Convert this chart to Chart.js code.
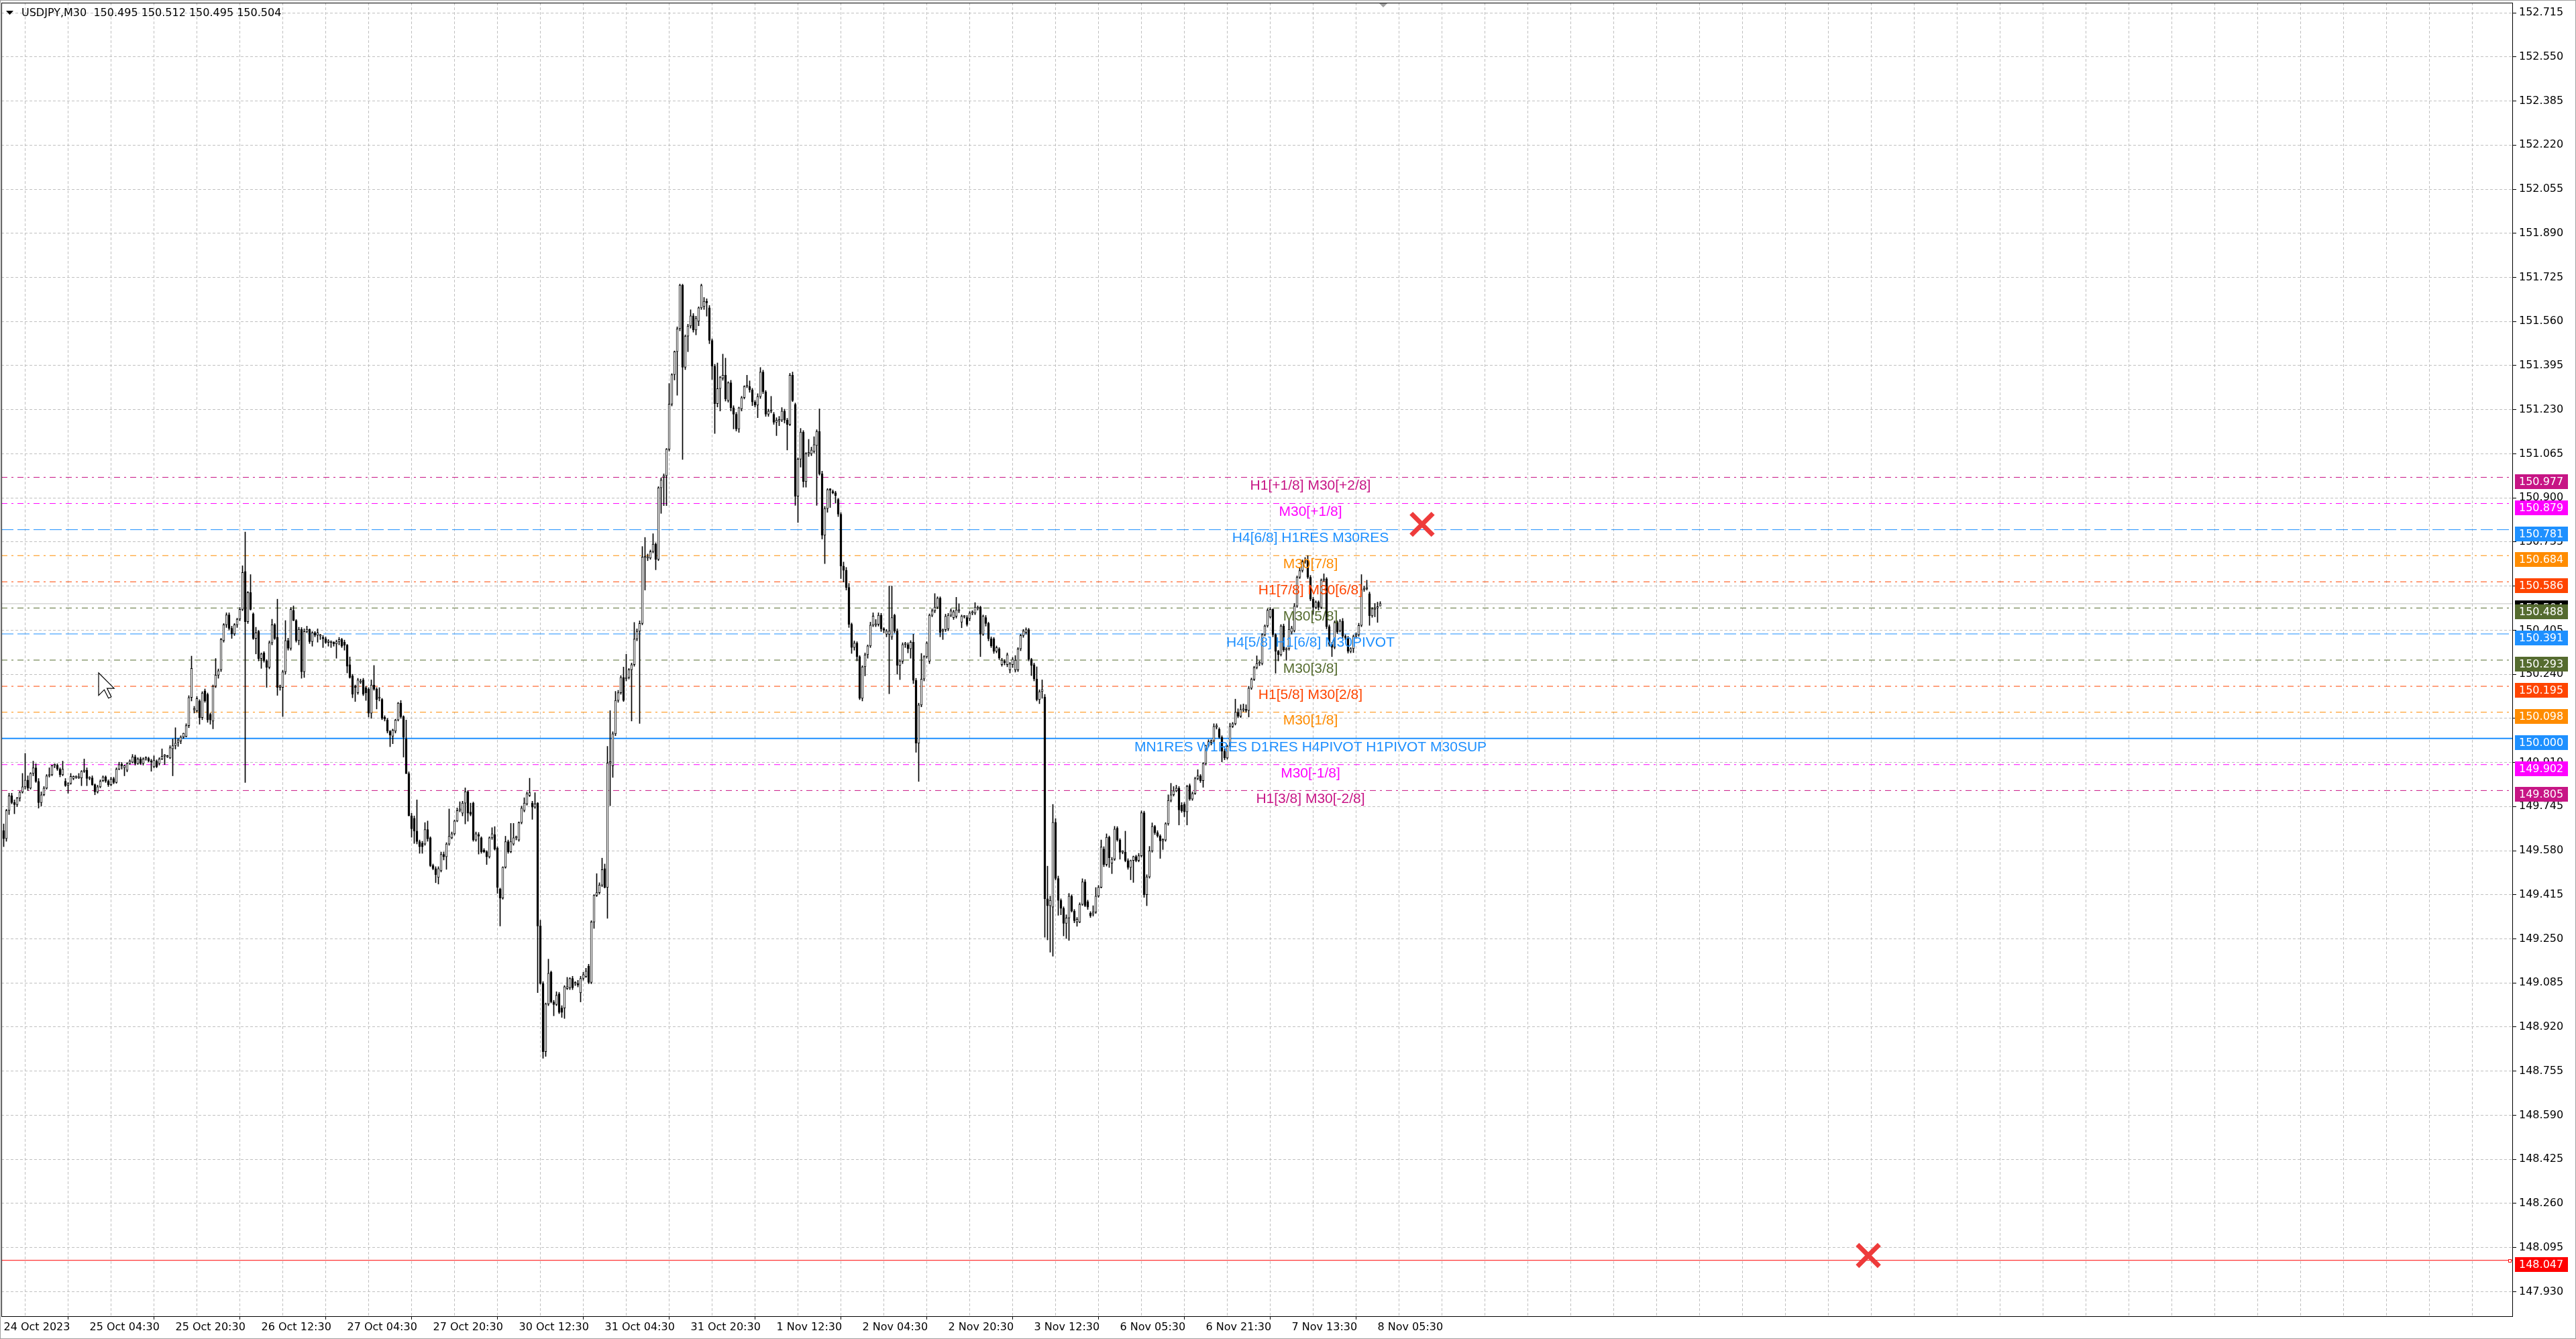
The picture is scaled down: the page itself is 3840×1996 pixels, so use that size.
<!DOCTYPE html>
<html>
<head>
<meta charset="utf-8">
<title>USDJPY,M30</title>
<script src="https://cdn.jsdelivr.net/npm/chart.js@4.4.1/dist/chart.umd.min.js"></script>
<style>
  html, body { margin: 0; padding: 0; background: #fff; overflow: hidden; }
  #wrap { width: 3840px; height: 1996px; position: relative; }
</style>
</head>
<body>
<div id="wrap"><canvas id="chart"></canvas></div>
<script>
// M30 candles, 24 Oct 2023 12:30 .. 8 Nov 2023 (one entry per bar).
// Values are in 0.001 JPY relative to BASE (e.g. -375 = 149.625).
const BASE = 150.000;
const opens = [
  -345,-375,-270,-215,-240,-248,-223,-201,-181,-156, -186,-131,-110,-161,-240,-211,-186,-140,-136,-102,
  -100,-115,-136,-160,-176,-169,-150,-146,-148,-148, -123,-119,-150,-148,-173,-200,-181,-158,-144,-160,
  -173,-150,-165,-115,-98,-110,-119,-94,-89,-69, -94,-77,-94,-77,-75,-84,-106,-85,-94,-77,
  -67,-69,-73,-39,-27,-14,-10,5,7,48, 153,107,103,140,78,178,165,90,65,195,
  237,257,366,425,462,412,391,425,446,483, 625,437,546,466,374,400,299,320,291,266,
  358,425,379,191,191,249,366,337,479,441, 366,408,249,400,408,362,395,387,383,376,
  373,359,359,360,354,362,370,360,349,
  276,234,196,171,210,219,190,184,94,200, 184,150,146,79,69,27,8,27,69,132,
  81,-2,-132,-290,-299,-347,-386,-392,-395,-341, -372,-476,-487,-520,-495,-434,-443,-395,-372,-357,
  -309,-270,-280,-242,-199,-276,-242,-380,-360,-372, -418,-424,-443,-372,-360,-410,-564,-597,-482,-386,
  -424,-395,-372,-380,-315,-270,-245,-213,-242,-257, -242,-702,-917,-1172,-994,-875,-986,-996,-956,-1009,
  -1009,-936,-933,-898,-918,-917,-952,-898,-891,-852, -913,-687,-587,-577,-549,-487,-558,-92,-103,17,
  142,171,228,223,228,257,276,372,401,430, 677,675,675,699,727,670,938,977,983,1082,
  1251,1361,1447,1533,1696,1389,1505,1543,1581,1528, 1561,1611,1616,1636,1611,1489,1393,1253,1309,1348,
  1359,1264,1331,1237,1213,1158,1233,1275,1317,1317, 1304,1259,1247,1279,1371,1297,1213,1225,1213,1183,
  1188,1191,1225,1191,1175,1359,1250,906,1045,1146, 961,1065,1065,1074,1096,1149,990,760,860,931,
  923,919,894,839,645,629,565,427,340,357, 306,150,268,313,346,424,424,427,461,410,
  390,390,380,461,402,273,289,351,351,335, 360,217,-18,125,222,306,289,461,477,491,
  525,402,407,410,461,452,457,477,435,455, 452,448,469,469,486,491,390,452,430,373,
  373,326,335,276,289,276,256,276,256,256, 335,385,397,407,296,276,222,145,175,155,
  -600,-626,-631,-314,-524,-606,-636,-692,-672,-590, -646,-687,-687,-621,-537,-611,-654,-657,-650,-590,
  -557,-414,-472,-370,-467,-452,-336,-380,-426,-426, -457,-483,-457,-442,-457,-439,-278,-585,-518,-421,
  -329,-353,-365,-383,-380,-319,-232,-211,-196,-186, -250,-247,-275,-176,-227,-206,-150,-140,-158,-94,
  -27,-15,-9,43,34,4,-48,-73,-29,45, 55,98,83,106,108,104,188,221,265,280,
  280,388,421,454,483,388,326,313,421,331, 336,398,403,495,603,628,661,667,603,521,
  490,510,490,592,597,418,352,341,434,403, 439,382,377,326,336,382,388,423,557,560,
  541,459,483,488,495
];
const highs = [
  -320,-265,-205,-205,-230,-220,-198,-131,-56,-140, -128,-85,-95,-150,-200,-180,-135,-110,-100,-95,
  -95,-110,-85,-150,-165,-131,-140,-140,-131,-120, -77,-110,-143,-140,-170,-175,-155,-140,-140,-155,
  -145,-145,-110,-89,-90,-100,-90,-80,-60,-62, -72,-70,-72,-68,-70,-78,-65,-80,-72,-39,
  -60,-63,-27,-2,40,0,10,20,55,160, 308,120,157,145,175,185,170,95,200,299,
  260,375,430,470,470,420,430,450,490,646, 772,550,613,470,416,405,320,325,295,365,
  446,430,521,200,255,441,375,490,496,445, 416,415,410,420,410,400,400,410,390,385,
  380,370,365,362,368,378,375,368,352,
  305,240,200,225,222,225,195,190,219,273, 190,190,150,85,75,30,35,72,135,142,
  85,69,-125,-280,-290,-230,-380,-385,-315,-309, -368,-470,-480,-480,-425,-425,-390,-264,-350,-305,
  -260,-237,-235,-185,-195,-242,-238,-350,-352,-368, -412,-420,-368,-334,-330,-405,-560,-480,-366,-380,
  -318,-318,-365,-312,-253,-222,-200,-149,-235,-203, -240,-680,-910,-990,-826,-870,-980,-948,-950,-1000,
  -925,-894,-895,-890,-910,-905,-890,-875,-860,-845, -682,-585,-506,-540,-448,-470,-30,104,25,176,
  180,235,267,315,262,282,434,410,440,718, 752,690,705,766,732,942,975,990,1085,1328,
  1365,1450,1540,1700,1700,1510,1550,1604,1590,1580, 1615,1700,1650,1645,1620,1495,1400,1405,1355,1438,
  1423,1335,1340,1245,1220,1240,1280,1320,1359,1338, 1310,1265,1290,1388,1378,1302,1232,1280,1220,1200,
  1205,1238,1232,1198,1366,1371,1255,1050,1160,1152, 1070,1119,1090,1129,1155,1233,1000,868,935,935,
  930,925,898,845,660,640,580,432,365,362, 310,272,320,350,435,470,445,470,468,415,
  408,570,570,465,410,295,358,360,358,366, 390,225,132,318,310,362,466,485,542,530,
  530,410,465,468,485,480,528,504,462,460, 460,475,478,508,496,495,462,460,435,380,
  378,346,340,300,295,320,285,303,310,340, 390,408,414,412,300,282,268,182,219,165,
  -478,-590,-247,-300,-515,-600,-630,-660,-580,-585, -640,-670,-615,-525,-528,-605,-648,-626,-558,-550,
  -380,-405,-357,-365,-445,-329,-330,-375,-420,-347, -450,-455,-440,-437,-430,-271,-272,-510,-404,-316,
  -325,-345,-360,-375,-315,-211,-168,-180,-175,-180, -240,-240,-175,-170,-200,-145,-117,-135,-90,-25,
  -5,-5,55,55,40,10,-40,-25,57,60, 147,111,126,129,126,195,226,270,309,290,
  393,425,485,490,485,392,330,426,428,340, 444,420,505,608,640,668,677,684,610,528,
  515,515,597,616,602,425,360,440,440,445, 449,388,382,340,387,395,431,613,570,592,
  548,490,505,510,512
];
const lows = [
  -405,-385,-285,-245,-282,-255,-235,-205,-190,-195, -190,-140,-165,-261,-253,-215,-190,-145,-140,-110,
  -120,-144,-140,-180,-205,-172,-155,-150,-150,-177, -128,-177,-155,-176,-211,-205,-185,-162,-165,-180,
  -178,-170,-168,-118,-115,-140,-125,-98,-92,-100, -98,-98,-100,-82,-88,-123,-110,-110,-100,-80,
  -98,-72,-76,-140,-40,-30,-20,0,5,40, 140,95,98,53,70,135,60,53,36,190,
  225,250,360,415,405,374,385,415,440,478, -165,430,480,370,316,290,262,285,191,260,
  350,370,161,180,82,240,330,330,440,360, 350,225,228,395,355,345,380,360,370,340,
  355,345,340,345,300,350,340,330,245,
  225,152,138,165,205,160,142,80,75,180, 110,140,70,65,20,-31,-20,20,65,75,
  -70,-10,-290,-370,-393,-395,-430,-430,-400,-385, -480,-492,-540,-545,-500,-455,-490,-400,-376,-362,
  -312,-275,-290,-320,-310,-290,-385,-385,-433,-430, -428,-472,-448,-378,-418,-580,-702,-602,-486,-430,
  -428,-400,-380,-385,-320,-275,-250,-218,-303,-262, -951,-920,-1197,-1190,-1000,-990,-1038,-1000,-1030,-1044,
  -1048,-940,-940,-940,-925,-930,-986,-905,-895,-918, -918,-711,-592,-582,-555,-560,-673,-252,-146,10,
  135,165,138,215,222,65,270,365,56,425, 555,665,670,694,631,665,842,871,871,1075,
  1244,1341,1284,1525,1044,1380,1447,1535,1520,1510, 1544,1605,1605,1580,1477,1343,1141,1240,1225,1340,
  1262,1258,1225,1158,1150,1145,1225,1270,1312,1295, 1245,1240,1200,1272,1290,1205,1205,1218,1175,1133,
  1170,1185,1180,1079,1170,1260,872,808,1015,940, 940,1055,1058,1068,872,985,746,654,846,864,
  915,880,830,598,585,555,415,318,330,290, 145,140,234,300,340,418,418,420,400,395,
  380,167,370,395,240,220,280,340,320,300, 205,-52,-161,118,215,300,280,455,470,485,
  380,370,400,403,455,445,450,470,414,450, 420,440,462,463,480,306,385,420,365,340,
  318,320,295,270,275,268,245,265,248,250, 328,378,390,290,235,215,140,130,150,-744,
  -754,-800,-815,-530,-662,-660,-739,-749,-756,-650, -690,-703,-690,-625,-630,-640,-670,-665,-655,-595,
  -560,-480,-478,-483,-506,-457,-385,-452,-432,-462, -490,-529,-539,-462,-462,-444,-595,-626,-523,-426,
  -360,-370,-449,-416,-385,-325,-238,-216,-200,-324, -277,-293,-324,-232,-232,-210,-155,-165,-183,-100,
  -32,-25,-14,35,0,-88,-80,-78,-34,40, 50,78,78,100,98,80,183,216,260,272,
  275,383,416,450,380,244,290,308,325,292, 330,390,398,490,598,622,655,598,515,464,
  485,480,485,587,410,345,306,335,392,398, 375,370,319,320,321,375,382,418,550,555,
  423,453,455,434,495
];
const closes = [
  -375,-270,-215,-240,-248,-223,-201,-181,-156,-186, -131,-110,-161,-240,-211,-186,-140,-136,-102,-100,
  -115,-136,-115,-176,-169,-142,-142,-146,-147,-123, -120,-150,-146,-173,-200,-181,-160,-144,-160,-173,
  -152,-165,-115,-98,-102,-102,-94,-85,-69,-94, -77,-94,-77,-73,-84,-89,-81,-106,-77,-67,
  -67,-69,-35,-27,-18,-6,5,19,48,153, 262,111,149,78,170,140,69,69,195,237,
  253,370,425,462,412,391,425,446,483,621, 437,546,483,374,395,299,316,291,266,358,
  425,374,191,195,249,366,337,483,441,366, 408,249,400,408,362,395,387,395,383,373,
  359,359,360,354,362,370,345,349,270,
  228,165,190,219,215,165,171,94,200,184, 146,154,75,73,27,12,31,69,132,81,
  4,-132,-290,-338,-347,-386,-405,-405,-341,-376, -476,-487,-510,-487,-434,-443,-395,-366,-357,-309,
  -270,-264,-242,-199,-280,-284,-380,-357,-366,-424, -424,-443,-372,-357,-414,-558,-597,-482,-386,-424,
  -386,-372,-370,-315,-261,-242,-207,-203,-257,-245, -702,-917,-1172,-994,-879,-986,-996,-961,-1025,-1025,
  -929,-929,-898,-933,-915,-923,-898,-884,-871,-913, -687,-587,-577,-549,-491,-558,-92,-88,17,142,
  171,228,142,228,257,276,372,401,430,679, 681,677,699,727,670,938,967,983,1082,1251,
  1361,1447,1533,1696,1389,1505,1543,1581,1528,1572, 1611,1695,1636,1630,1489,1393,1253,1309,1351,1359,
  1270,1331,1237,1213,1158,1237,1275,1317,1319,1304, 1259,1247,1279,1371,1297,1213,1225,1230,1183,1191,
  1193,1225,1191,1175,1359,1264,906,1045,1146,961, 1065,1069,1079,1099,1149,990,760,860,931,929,
  919,909,839,645,629,565,427,340,357,306, 150,268,313,346,424,458,427,461,410,405,
  402,402,452,402,273,289,351,353,335,360, 217,-18,125,222,306,357,461,477,491,525,
  397,407,457,461,477,474,481,481,457,457, 427,469,474,491,491,390,457,430,373,346,
  326,340,301,293,284,313,279,296,293,335, 385,402,407,296,273,222,145,175,183,-600,
  -626,-606,-314,-524,-606,-636,-692,-672,-590,-646, -682,-677,-621,-537,-626,-631,-664,-650,-590,-557,
  -406,-472,-370,-447,-452,-339,-380,-426,-424,-457, -483,-457,-442,-457,-439,-278,-585,-518,-421,-329,
  -353,-365,-383,-380,-319,-232,-211,-196,-186,-268, -271,-275,-179,-227,-206,-150,-140,-158,-94,-27,
  -12,-9,45,47,4,-48,-73,-29,45,55, 98,83,108,111,104,188,221,265,280,282,
  388,421,480,483,388,326,313,421,331,336, 408,413,495,603,628,661,667,603,521,490,
  510,490,592,597,418,352,341,434,398,439, 382,377,326,336,382,388,423,557,562,564,
  459,485,487,492,504
];

// x axis labels, one every 32 bars starting at bar 0
const timeLabels = ['24 Oct 2023', '25 Oct 04:30', '25 Oct 20:30', '26 Oct 12:30', '27 Oct 04:30',
  '27 Oct 20:30', '30 Oct 12:30', '31 Oct 04:30', '31 Oct 20:30', '1 Nov 12:30', '2 Nov 04:30',
  '2 Nov 20:30', '3 Nov 12:30', '6 Nov 05:30', '6 Nov 21:30', '7 Nov 13:30', '8 Nov 05:30'];

// price axis tick labels
const yTicks = [152.715, 152.550, 152.385, 152.220, 152.055, 151.890, 151.725, 151.560, 151.395,
  151.230, 151.065, 150.900, 150.735, 150.570, 150.405, 150.240, 150.075, 149.910, 149.745, 149.580,
  149.415, 149.250, 149.085, 148.920, 148.755, 148.590, 148.425, 148.260, 148.095, 147.930];

// Murrey / pivot levels
const levelPrices = [150.977, 150.879, 150.781, 150.684, 150.586, 150.488, 150.391,
  150.293, 150.195, 150.098, 150.000, 149.902, 149.805];
const levelNames = ['H1[+1/8] M30[+2/8]', 'M30[+1/8]', 'H4[6/8] H1RES M30RES', 'M30[7/8]',
  'H1[7/8] M30[6/8]', 'M30[5/8]', 'H4[5/8] H1[6/8] M30PIVOT', 'M30[3/8]', 'H1[5/8] M30[2/8]',
  'M30[1/8]', 'MN1RES W1RES D1RES H4PIVOT H1PIVOT M30SUP', 'M30[-1/8]', 'H1[3/8] M30[-2/8]'];
const currentPrice = 150.504;
const supportLine = 148.047;

// the two red cross marks (bar position, price)
const markBars = [528.6, 694.9];
const markPrices = [150.801, 148.065];

// ---- styles ----
const VIOLET = '#C71585', MAGENTA = '#FF00FF', BLUE = '#1E90FF', ORANGE = '#FF8C00',
      RED_OR = '#FF4500', OLIVE = '#556B2F';
const levelColors = [VIOLET, MAGENTA, BLUE, ORANGE, RED_OR, OLIVE, BLUE, OLIVE, RED_OR, ORANGE, BLUE, MAGENTA, VIOLET];
const DASH_DOT = [9, 6, 3, 6], DASH = [18, 6];
const levelDash = [DASH_DOT, DASH_DOT, DASH, DASH_DOT, DASH_DOT, DASH_DOT, DASH, DASH_DOT, DASH_DOT, DASH_DOT, [], DASH_DOT, DASH_DOT];
const levelWidth = [1, 1, 1, 1, 1, 1, 1, 1, 1, 1, 2, 1, 1];
const GRID_DASH = [4, 3];

const LABEL_BAR = 487;
const X_MIN = -0.875, X_MAX = 935.125;
const Y_MIN = 147.838, Y_MAX = 152.753;
const AXIS_FONT = { family: '"DejaVu Sans", Verdana, sans-serif', size: 16 };

const px = v => BASE + v / 1000;

const bars = opens.map((_, i) => i);
const wickData = bars.map(i => ({ x: i, y: [px(lows[i]), px(highs[i])] }));
const bodyData = bars.map(i => ({ x: i, y: [px(opens[i]), px(closes[i])] }));
const bodyFill = bars.map(i => (closes[i] >= opens[i] ? '#ffffff' : '#000000'));

const hline = (price, color, dash, width) => ({
  type: 'line',
  data: [{ x: X_MIN, y: price }, { x: X_MAX, y: price }],
  borderColor: color,
  borderDash: dash,
  borderWidth: width,
  pointRadius: 0,
  order: 10
});

const levelSets = levelPrices.map((p, i) => hline(p, levelColors[i], levelDash[i], levelWidth[i]));

const overlay = {
  id: 'overlay',
  afterDatasetsDraw(chart) {
    const { ctx, scales: { x, y } } = chart;
    ctx.save();
    ctx.font = '21px "Liberation Sans", Arial, sans-serif';
    ctx.textAlign = 'center';
    ctx.textBaseline = 'middle';
    const lx = x.getPixelForValue(LABEL_BAR);
    levelPrices.forEach((p, i) => {
      ctx.fillStyle = levelColors[i];
      ctx.fillText(levelNames[i], lx, y.getPixelForValue(p) + 13);
    });
    ctx.restore();
  },
  afterDraw(chart) {
    const { ctx, chartArea: a, scales: { y } } = chart;
    ctx.save();
    // plot frame
    ctx.strokeStyle = '#000';
    ctx.lineWidth = 1;
    ctx.strokeRect(a.left + 0.5, a.top + 0.5, a.right - a.left - 1, a.bottom - a.top);
    // window edge
    ctx.strokeStyle = '#a0a0a0';
    ctx.strokeRect(0.5, 0.5, chart.width - 1, chart.height - 1);

    // shift marker on top border
    ctx.fillStyle = '#a0a0a0';
    ctx.beginPath();
    ctx.moveTo(2056, a.top + 1);
    ctx.lineTo(2068, a.top + 1);
    ctx.lineTo(2062, a.top + 7);
    ctx.closePath();
    ctx.fill();

    // mouse pointer left on the chart
    const cx = 147, cy = 1003, k = 2.1;
    const arrow = [[0, 0], [0, 16], [4, 12], [7, 18], [9, 17], [6, 11], [11, 11]];
    ctx.beginPath();
    arrow.forEach(([ax, ay], i) => (i ? ctx.lineTo : ctx.moveTo).call(ctx, cx + ax * k, cy + ay * k));
    ctx.closePath();
    ctx.fillStyle = '#fff';
    ctx.fill();
    ctx.strokeStyle = '#000';
    ctx.lineWidth = 1.2;
    ctx.stroke();

    // small square at the end of the support line
    const sy = Math.round(y.getPixelForValue(supportLine));
    ctx.lineWidth = 1;
    ctx.strokeStyle = '#FF0000';
    ctx.fillStyle = '#fff';
    ctx.fillRect(a.right - 7, sy - 2, 5, 5);
    ctx.strokeRect(a.right - 6.5, sy - 1.5, 4, 4);

    // price tags on the axis
    const tag = (price, color) => {
      const ty = y.getPixelForValue(price);
      ctx.fillStyle = color;
      ctx.fillRect(a.right + 3, Math.round(ty - 5), 79, 22);
      ctx.fillStyle = '#fff';
      ctx.font = '16px "DejaVu Sans", Verdana, sans-serif';
      ctx.textAlign = 'left';
      ctx.textBaseline = 'middle';
      ctx.fillText(price.toFixed(3), a.right + 9, Math.round(ty - 5) + 11.5);
    };
    tag(currentPrice, '#000000');
    levelPrices.forEach((p, i) => tag(p, levelColors[i]));
    tag(supportLine, '#FF0000');

    // header
    ctx.fillStyle = '#000';
    ctx.beginPath();
    ctx.moveTo(9, 16);
    ctx.lineTo(20, 16);
    ctx.lineTo(14.5, 22);
    ctx.closePath();
    ctx.fill();
    ctx.font = '16px "DejaVu Sans", Verdana, sans-serif';
    ctx.textAlign = 'left';
    ctx.textBaseline = 'middle';
    ctx.fillText('USDJPY,M30  150.495 150.512 150.495 150.504', 32, 20);
    ctx.restore();
  }
};

const gridBars = [];
for (let b = 0; b <= X_MAX; b += 16) gridBars.push(b);
const isLabelBar = v => v % 32 === 0 && v / 32 < timeLabels.length;

new Chart(document.getElementById('chart'), {
  type: 'bar',
  data: {
    datasets: [
      {
        type: 'scatter',
        data: markBars.map((b, i) => ({ x: b, y: markPrices[i] })),
        pointStyle: 'crossRot',
        pointRadius: 23,
        pointBorderWidth: 7,
        borderColor: '#EE3B3B',
        backgroundColor: '#EE3B3B',
        clip: false,
        order: 0
      },
      {
        data: bodyData,
        backgroundColor: bodyFill,
        borderColor: '#000',
        borderWidth: 1,
        borderSkipped: false,
        barThickness: 3,
        minBarLength: 2,
        grouped: false,
        order: 1
      },
      {
        data: wickData,
        backgroundColor: '#000',
        borderWidth: 0,
        barThickness: 1,
        grouped: false,
        order: 2
      },
      ...levelSets,
      hline(currentPrice, '#C0C0C0', [], 1),
      hline(supportLine, '#FF0000', [], 1)
    ]
  },
  options: {
    responsive: true,
    maintainAspectRatio: false,
    devicePixelRatio: 1,
    animation: false,
    events: [],
    layout: { autoPadding: false, padding: { left: 2, top: 4, right: 0, bottom: 0 } },
    plugins: { legend: { display: false }, tooltip: { enabled: false } },
    scales: {
      x: {
        type: 'linear',
        min: X_MIN,
        max: X_MAX,
        offset: false,
        afterBuildTicks: s => { s.ticks = gridBars.map(v => ({ value: v })); },
        afterFit: s => { s.height = 34; s.paddingLeft = 0; s.paddingRight = 0; },
        ticks: {
          autoSkip: false,
          maxRotation: 0,
          minRotation: 0,
          align: 'start',
          padding: 2,
          color: '#000',
          font: AXIS_FONT,
          callback: v => (isLabelBar(v) ? timeLabels[v / 32] : '')
        },
        grid: {
          color: '#C0C0C0',
          lineWidth: 1,
          borderDash: GRID_DASH,
          tickLength: 5,
          tickWidth: 1,
          tickColor: c => (c.tick && isLabelBar(c.tick.value) ? '#000' : 'rgba(0,0,0,0)')
        },
        border: { display: false, dash: GRID_DASH }
      },
      y: {
        type: 'linear',
        position: 'right',
        min: Y_MIN,
        max: Y_MAX,
        afterBuildTicks: s => { s.ticks = yTicks.map(v => ({ value: v })); },
        afterFit: s => { s.width = 94; s.paddingTop = 0; s.paddingBottom = 0; },
        ticks: {
          autoSkip: false,
          padding: 4,
          color: '#000',
          font: AXIS_FONT,
          callback: v => v.toFixed(3)
        },
        grid: {
          color: '#C0C0C0',
          lineWidth: 1,
          borderDash: GRID_DASH,
          tickLength: 5,
          tickColor: '#000'
        },
        border: { display: false, dash: GRID_DASH }
      }
    }
  },
  plugins: [overlay]
});
</script>
</body>
</html>
